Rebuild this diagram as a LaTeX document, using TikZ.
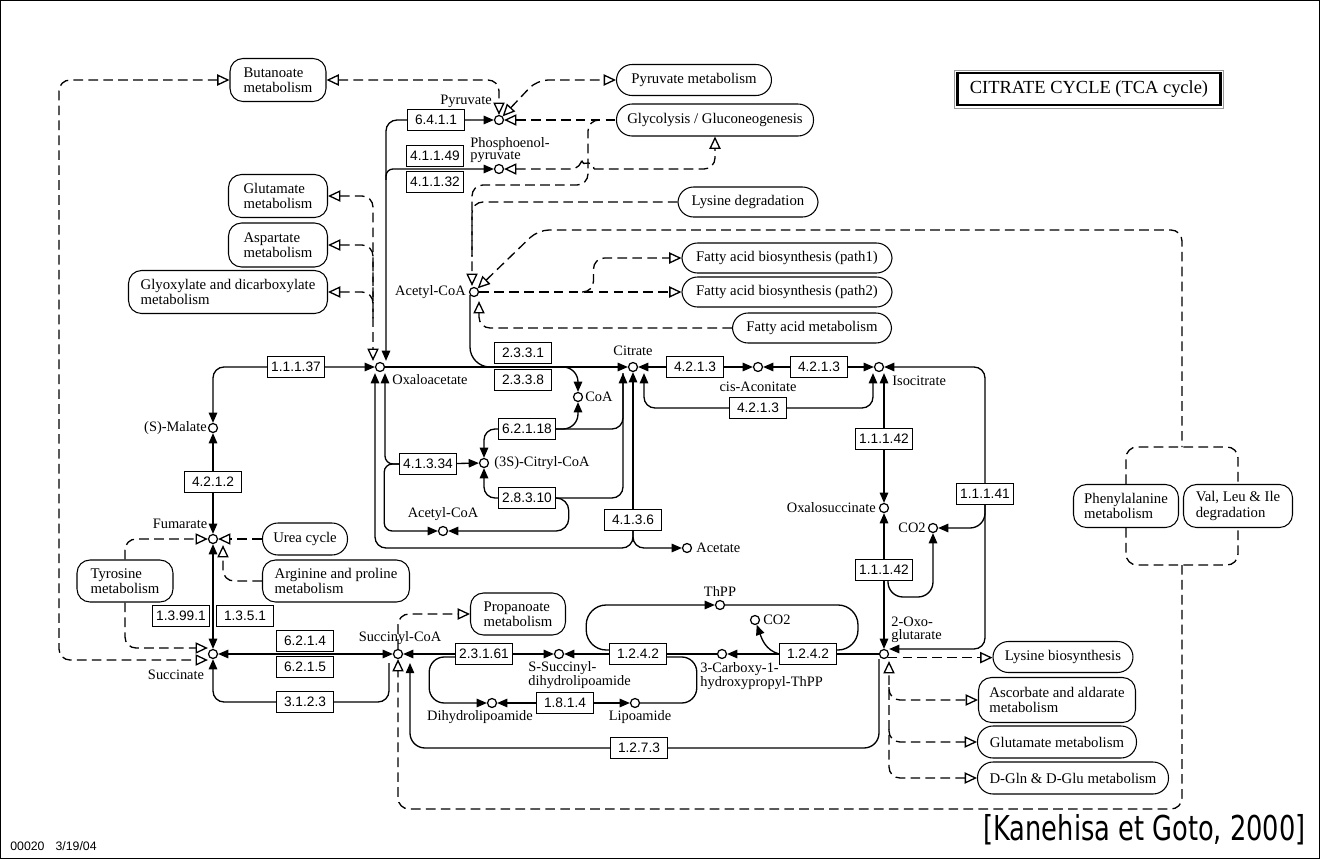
\documentclass[tikz,border=0pt]{standalone}
\usepackage{fontspec}
\usepackage{graphicx}
\setmainfont{Liberation Serif}
\newfontfamily\ecsans{Liberation Sans}
\newfontfamily\citesans{DejaVu Sans}
\usetikzlibrary{arrows.meta,calc,backgrounds}
\newcommand\mapfont{\fontsize{8.4}{8.6}\selectfont}
\newcommand\cpdfont{\fontsize{8.2}{7.2}\selectfont}
\newcommand\ecfont{\ecsans\fontsize{7.8}{8}\selectfont}

\begin{document}
\begin{tikzpicture}[x=0.02cm, y=-0.02cm,
  >={Triangle[length=5.8pt,width=4.8pt]},
  obeg/.style={{Triangle[fill=white,length=7pt,width=6.4pt]}-},
  oend/.style={-{Triangle[fill=white,length=7pt,width=6.4pt]}},
  oboth/.style={{Triangle[fill=white,length=7pt,width=6.4pt]}-{Triangle[fill=white,length=7pt,width=6.4pt]}},
  cpd/.style={circle, draw, line width=0.7pt, fill=white, minimum size=0.18cm, inner sep=0pt},
  ec/.style={draw, line width=0.6pt, fill=white, minimum width=1.13cm, minimum height=0.42cm, inner sep=0pt, font=\ecfont},
  map/.style={draw, line width=0.6pt, fill=white, rounded corners=0.26cm, inner sep=0pt, align=left, font=\mapfont},
  mapone/.style={map, rounded corners=0.31cm},
  lbl/.style={inner sep=0pt, align=left, font=\cpdfont},
  rxn/.style={line width=0.75pt, rounded corners=0.22cm},
  lnk/.style={line width=0.75pt, dash pattern=on 5.5pt off 3pt, rounded corners=0.22cm}]
  \useasboundingbox (0,0) rectangle (1320,859);
  \draw[line width=0.6pt] (0.5,0.5) rectangle (1319.5,858.5);

  % compounds
  \node[cpd] (pyr) at (499,120) {};
  \node[cpd] (pep) at (499,169) {};
  \node[cpd] (accoa) at (474,292) {};
  \node[cpd] (oaa) at (380,367) {};
  \node[cpd] (cit) at (633,367) {};
  \node[cpd] (coa) at (578,397) {};
  \node[cpd] (citcoa) at (484,463) {};
  \node[cpd] (accoa2) at (443,531) {};
  \node[cpd] (acet) at (687,548) {};
  \node[cpd] (cisaco) at (758,367) {};
  \node[cpd] (icit) at (879,367) {};
  \node[cpd] (oxsuc) at (884,508) {};
  \node[cpd] (co2a) at (933,528) {};
  \node[cpd] (akg) at (884,654) {};
  \node[cpd] (thpp) at (720,605) {};
  \node[cpd] (co2b) at (755,620) {};
  \node[cpd] (carb) at (722,654) {};
  \node[cpd] (ssdl) at (559,654) {};
  \node[cpd] (dhl) at (492,703) {};
  \node[cpd] (lip) at (635,703) {};
  \node[cpd] (succoa) at (398,654) {};
  \node[cpd] (succ) at (213,654) {};
  \node[cpd] (fum) at (213,539) {};
  \node[cpd] (mal) at (213,428) {};

  % enzymes
  \node[ec] (e6411) at (436,120) {6.4.1.1};
  \node[ec] (e41149) at (435,156) {4.1.1.49};
  \node[ec] (e41132) at (435,182) {4.1.1.32};
  \node[ec] (e11137) at (296,367) {1.1.1.37};
  \node[ec] (e2331) at (523,353) {2.3.3.1};
  \node[ec] (e2338) at (523,380) {2.3.3.8};
  \node[ec] (e62118) at (527,429) {6.2.1.18};
  \node[ec] (e41334) at (428,464) {4.1.3.34};
  \node[ec] (e28310) at (527,498) {2.8.3.10};
  \node[ec] (e4136) at (633,520) {4.1.3.6};
  \node[ec] (e4213a) at (695,367) {4.2.1.3};
  \node[ec] (e4213b) at (819,367) {4.2.1.3};
  \node[ec] (e4213c) at (758,408) {4.2.1.3};
  \node[ec] (e11142a) at (884,439) {1.1.1.42};
  \node[ec] (e11142b) at (884,570) {1.1.1.42};
  \node[ec] (e11141) at (985,494) {1.1.1.41};
  \node[ec] (e1242a) at (638,654) {1.2.4.2};
  \node[ec] (e1242b) at (808,654) {1.2.4.2};
  \node[ec] (e23161) at (484,654) {2.3.1.61};
  \node[ec] (e1814) at (565,703) {1.8.1.4};
  \node[ec] (e1273) at (639,748) {1.2.7.3};
  \node[ec] (e6214) at (305,641) {6.2.1.4};
  \node[ec] (e6215) at (305,667) {6.2.1.5};
  \node[ec] (e3123) at (305,702) {3.1.2.3};
  \node[ec] (e13991) at (181,616) {1.3.99.1};
  \node[ec] (e1351) at (245,616) {1.3.5.1};
  \node[ec] (e4212) at (213,482) {4.2.1.2};

  % pathway maps
  \node[map, minimum width=1.92cm, minimum height=0.86cm] (butan) at (278,80) {Butanoate\\metabolism};
  \node[mapone, minimum width=3.1cm, minimum height=0.62cm] (pyrmet) at (694,80) {Pyruvate metabolism};
  \node[mapone, minimum width=3.94cm, minimum height=0.64cm] (glyc) at (715,120) {Glycolysis / Gluconeogenesis};
  \node[map, minimum width=1.98cm, minimum height=0.86cm] (glu1) at (278,196) {Glutamate\\metabolism};
  \node[map, minimum width=1.98cm, minimum height=0.88cm] (asp) at (278,245) {Aspartate\\metabolism};
  \node[map, minimum width=3.98cm, minimum height=0.86cm] (glyox) at (228,292) {Glyoxylate and dicarboxylate\\metabolism};
  \node[mapone, minimum width=2.8cm, minimum height=0.6cm] (lysdeg) at (748,202) {Lysine degradation};
  \node[mapone, minimum width=4.2cm, minimum height=0.6cm] (fab1) at (787,258) {Fatty acid biosynthesis (path1)};
  \node[mapone, minimum width=4.2cm, minimum height=0.6cm] (fab2) at (787,292) {Fatty acid biosynthesis (path2)};
  \node[mapone, minimum width=3.18cm, minimum height=0.6cm] (fam) at (812,328) {Fatty acid metabolism};
  \node[map, minimum width=2.1cm, minimum height=0.86cm] (phe) at (1126,506) {Phenylalanine\\metabolism};
  \node[map, minimum width=2.18cm, minimum height=0.86cm] (vli) at (1238,506) {Val, Leu \& Ile\\degradation};
  \node[mapone, minimum width=1.7cm, minimum height=0.64cm] (urea) at (305,539) {Urea cycle};
  \node[map, minimum width=2.94cm, minimum height=0.84cm] (argpro) at (336,581) {Arginine and proline\\metabolism};
  \node[map, minimum width=1.92cm, minimum height=0.84cm] (tyr) at (125,581) {Tyrosine\\metabolism};
  \node[map, minimum width=1.9cm, minimum height=0.84cm] (propan) at (518,614) {Propanoate\\metabolism};
  \node[mapone, minimum width=2.8cm, minimum height=0.62cm] (lysbio) at (1063,657) {Lysine biosynthesis};
  \node[map, minimum width=3.14cm, minimum height=0.9cm] (ascorb) at (1057,700) {Ascorbate and aldarate\\metabolism};
  \node[mapone, minimum width=3.18cm, minimum height=0.64cm] (glu2) at (1057,742) {Glutamate metabolism};
  \node[mapone, minimum width=3.82cm, minimum height=0.64cm] (dgln) at (1073,778) {D-Gln \& D-Glu metabolism};

  \node[draw, line width=1.6pt, minimum width=5.26cm, minimum height=0.64cm, inner sep=0pt, font=\fontsize{10.5}{12}\selectfont] (title) at (1089,89) {CITRATE CYCLE (TCA cycle)};
  \draw[black!40, line width=0.4pt] ($(title.south west)+(-1.5,1.5)$) rectangle ($(title.north east)+(1.5,-1.5)$);

  % compound labels
  \node[lbl, anchor=east] (lpyr) at (492,101) {Pyruvate};
  \node[lbl, anchor=west] (lpep) at (470,150) {Phosphoenol-\\pyruvate};
  \node[lbl, anchor=east] (laccoa) at (466,292) {Acetyl-CoA};
  \node[lbl, anchor=west] (loaa) at (392,380) {Oxaloacetate};
  \node[lbl] (lcit) at (633,351) {Citrate};
  \node[lbl, anchor=west] (lcoa) at (585,397) {CoA};
  \node[lbl, anchor=west] (lcitcoa) at (494,463) {(3S)-Citryl-CoA};
  \node[lbl] (laccoa2) at (443,514) {Acetyl-CoA};
  \node[lbl, anchor=west] (lacet) at (696,548) {Acetate};
  \node[lbl] (lcisaco) at (758,387) {cis-Aconitate};
  \node[lbl, anchor=west] (licit) at (892,381) {Isocitrate};
  \node[lbl, anchor=east] (loxsuc) at (876,508) {Oxalosuccinate};
  \node[lbl, anchor=east] (lco2a) at (926,528) {CO2};
  \node[lbl, anchor=west] (lakg) at (891,630) {2-Oxo-\\glutarate};
  \node[lbl] (lthpp) at (720,591) {ThPP};
  \node[lbl, anchor=west] (lco2b) at (763,620) {CO2};
  \node[lbl, anchor=west] (lcarb) at (700,676) {3-Carboxy-1-\\hydroxypropyl-ThPP};
  \node[lbl, anchor=west] (lssdl) at (528,675) {S-Succinyl-\\dihydrolipoamide};
  \node[lbl] (ldhl) at (480,717) {Dihydrolipoamide};
  \node[lbl] (llip) at (640,717) {Lipoamide};
  \node[lbl] (lsuccoa) at (400,638) {Succinyl-CoA};
  \node[lbl] (lsucc) at (176,675) {Succinate};
  \node[lbl] (lfum) at (180,524) {Fumarate};
  \node[lbl, anchor=east] (lmal) at (207,428) {(S)-Malate};

  \node[anchor=west, inner sep=0pt, font=\ecsans\fontsize{7}{8}\selectfont] (stamp) at (10,846) {00020\hspace{0.9em}3/19/04};
  \node[anchor=east, inner sep=0pt, font=\citesans\fontsize{19.5}{22}\selectfont] (cite) at (1306,830) {\scalebox{0.75}[1]{[Kanehisa et Goto, 2000]}};

  \coordinate (grptop) at (1182,447);
  \coordinate (grpbot) at (1182,565);
  \coordinate (fabsplit) at (582,292);

  \begin{scope}[on background layer]
    % reactions
    \draw[rxn,<->] (pyr) -- (e6411.center) -| ($(oaa.north)+(6,-1)$);
    \draw[rxn,->,rounded corners=0.14cm] ($(oaa.north)+(6,-182)$) |- (pep);
    \draw[rxn,rounded corners=0.4cm] ($(accoa.south)+(-4,-2)$) |- (496,367);
    \draw[rxn,<->] (mal) |- (oaa);
    \draw[rxn,<->] (mal) -- (fum);
    \draw[rxn,<->] (fum) -- (succ);
    \draw[rxn,->] (oaa) -- (cit);
    \draw[rxn,->,rounded corners=0.3cm] (e2338.east |- oaa) -| (coa.north);
    \draw[rxn,->,rounded corners=0.3cm] (e62118.east) -| (coa.south);
    \draw[rxn,->] (e62118.east) -| ($(cit.south)+(-10,1)$);
    \draw[rxn] (e28310.east) -| ($(cit.south)+(-10,1)$);
    \draw[rxn,->] (e62118.west) -| (citcoa.north);
    \draw[rxn,->] (e28310.west) -| (citcoa.south);
    \draw[rxn,->] (e41334.center) -- (citcoa);
    \draw[rxn,<-,rounded corners=0.16cm] ($(oaa.south)+(5,1)$) |- (e41334.center);
    \draw[rxn,->,rounded corners=0.16cm] (e41334.west) -- ++(-15,0) |- (accoa2);
    \draw[rxn,->,rounded corners=0.25cm] (e28310.east) -- ++(13,0) |- (accoa2);
    \draw[rxn,->] (e4136) -- (cit);
    \draw[rxn,->] (e4136.south) |- ($(oaa)+(-5,181)$) -- ($(oaa.south)+(-5,1)$);
    \draw[rxn,->] (e4136.south) |- (acet);
    \draw[rxn,<->] (cit) -- (cisaco);
    \draw[rxn,<->] (cisaco) -- (icit);
    \draw[rxn,<->] ($(cit.south)+(11,1)$) |- (e4213c.center) -| ($(icit.south)+(-6,1)$);
    \draw[rxn,<->] ($(icit.south)+(5,1)$) -- (oxsuc);
    \draw[rxn,<->] (oxsuc) -- (akg);
    \draw[rxn,->,rounded corners=0.3cm] ($(e11142b.south)+(4,0)$) |- ($(co2a)+(0,69)$) -- (co2a);
    \draw[rxn,<->] (icit) -- (985,367) |- ($(akg.east)+(0,-5)$);
    \draw[rxn,->,rounded corners=0.3cm] (e11141.south) |- (co2a);
    \draw[rxn,->] (akg) -- (carb);
    \draw[rxn,->] (carb) -- (ssdl);
    \draw[rxn,->] (e1242b.west) to[out=165,in=-70] (co2b);
    \draw[rxn,->,rounded corners=0.4cm] ($(e1242a.west)+(0,-4)$) -- ++(-23,0) |- (thpp);
    \draw[rxn,rounded corners=0.4cm] (thpp) -- ++(138,0) |- ($(e1242b.east)+(0,-4)$);
    \draw[rxn,rounded corners=0.3cm] ($(e1242a.east)+(0,3)$) -- ++(30,0) |- (lip);
    \draw[rxn,<->] (dhl) -- (lip);
    \draw[rxn,->,rounded corners=0.3cm] ($(e23161.west)+(0,3)$) -- ++(-26,0) |- (dhl);
    \draw[rxn,<->] (succoa) -- (ssdl);
    \draw[rxn,<->] (succ) -- (succoa);
    \draw[rxn,<-] (succ) |- (e3123.center) -| ($(succoa)+(-9,9)$);
    \draw[rxn,->,rounded corners=0.3cm] ($(akg.south)+(-5,0)$) |- (e1273.center) -| ($(succoa)+(12,9)$);

    % links to other maps
    \draw[lnk,oboth] (butan.east) -| (pyr.north);
    \draw[lnk,oboth] (pyr.north east) -- (537,80) -- (pyrmet.west);
    \draw[lnk,obeg] (pyr) -- (glyc);
    \draw[lnk,oend] ($(glyc.west)+(-17,0)$) -| (588,185) -| ($(accoa.north)+(-2,-1)$);
    \draw[lnk,obeg] (pep) -- (582,169) arc[start angle=180, end angle=0, radius=0.12cm];
    \draw[lnk,oend] (594,169) -| (glyc.south);
    \draw[lnk] (lysdeg.west) -| ($(accoa.north)+(-2,-30)$);
    \draw[lnk,obeg] (accoa.north east) -- (538,230) -| (grptop);
    \draw[lnk] (phe.north) |- (grptop) -| (vli.north);
    \draw[lnk] (phe.south) |- (grpbot) -| (vli.south);
    \draw[lnk,oend] (grpbot) |- ($(succoa)+(0,155)$) -- (succoa.south);
    \draw[lnk,oend] (accoa) -- (fab2);
    \draw[lnk,oend] (fabsplit) -| ($(fab1.west)+(-88,0)$) -- (fab1.west);
    \draw[lnk,oend] (fam.west) -| ($(accoa.south)+(5,4)$);
    \draw[lnk,oboth] (glu1.east) -| ($(oaa.north)+(-7,-1)$);
    \draw[lnk,obeg] (asp.east) -| ($(oaa.north)+(-7,-60)$);
    \draw[lnk,obeg] (glyox.east) -| ($(oaa.north)+(-7,-40)$);
    \draw[lnk,oend] (tyr.north) |- (fum.west);
    \draw[lnk,oend] (tyr.south) |- ($(succ.west)+(0,-6)$);
    \draw[lnk,oboth] (butan.west) -| (59,660) -- ($(succ.west)+(0,6)$);
    \draw[lnk,oend] (urea.west) -- (fum.east);
    \draw[lnk,oend] (argpro.west) -| ($(fum.south)+(10,1)$);
    \draw[lnk,oend] (succoa.north) |- (propan.west);
    \draw[lnk,oend] (akg.south east) -- (akg.south east -| lysbio.west);
    \draw[lnk,oboth] (dgln.west) -| ($(akg.south)+(5,2)$);
    \draw[lnk,oend] ($(akg.south)+(5,28)$) |- (ascorb.west);
    \draw[lnk,oend] ($(akg.south)+(5,70)$) |- (glu2.west);
  \end{scope}
\end{tikzpicture}
\end{document}
